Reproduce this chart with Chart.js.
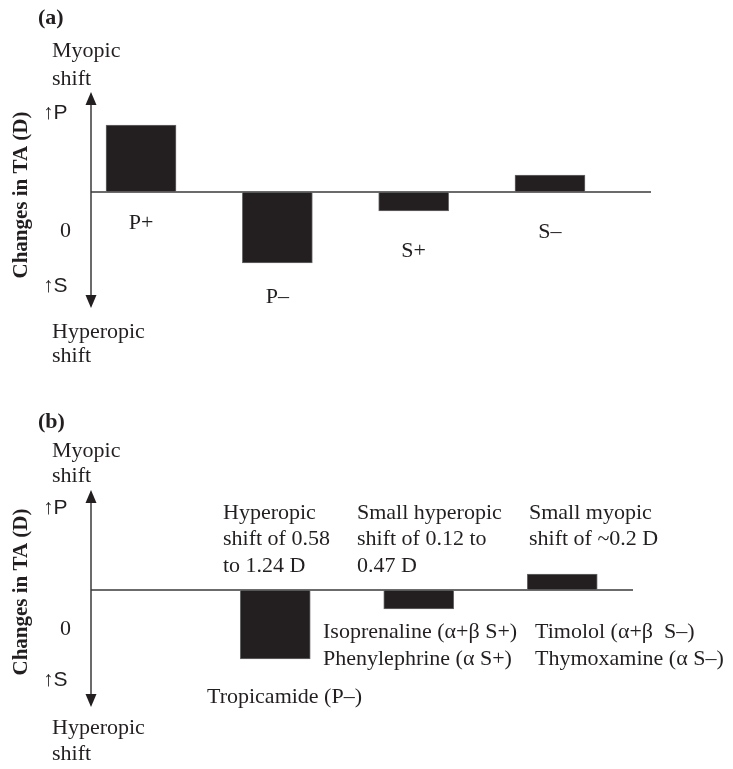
<!DOCTYPE html>
<html>
<head>
<meta charset="utf-8">
<script src="https://cdn.jsdelivr.net/npm/chart.js@4/dist/chart.umd.min.js"></script>
<style>
  html, body { margin: 0; padding: 0; background: #ffffff; }
  #wrap { position: relative; width: 733px; height: 769px; background: #ffffff; }
  .panel { position: absolute; left: 0; width: 733px; }
  canvas { display: block; }
</style>
</head>
<body>
<div id="wrap">
  <div class="panel" style="top:0px;height:385px;"><canvas id="chartA" width="733" height="385"></canvas></div>
  <div class="panel" style="top:385px;height:384px;"><canvas id="chartB" width="733" height="384"></canvas></div>
</div>
<script>
// ---------------- DATA ----------------
const receptorClasses = ['P+', 'P–', 'S+', 'S–'];
const changeA = [0.67, -0.71, -0.19, 0.17];

const drugClassesB = ['P–', 'S+', 'S–'];
const changeB = [-0.69, -0.19, 0.16];
const drugNamesB = [
  ['Tropicamide (P–)'],
  ['Isoprenaline (α+β S+)', 'Phenylephrine (α S+)'],
  ['Timolol (α+β  S–)', 'Thymoxamine (α S–)']
];
const effectNotesB = [
  ['Hyperopic', 'shift of 0.58', 'to 1.24 D'],
  ['Small hyperopic', 'shift of 0.12 to', '0.47 D'],
  ['Small myopic', 'shift of ~0.2 D']
];

const axisTickLabels = ['↑P', '0', '↑S'];
const axisTopLabel = ['Myopic', 'shift'];
const axisBottomLabel = ['Hyperopic', 'shift'];
const yTitle = 'Changes in TA (D)';
const panelTags = ['(a)', '(b)'];

// ---------------- STYLE / LAYOUT ----------------
const INK = '#231f20';
const LINE = '#3a3a3a';
const SERIF = '"Liberation Serif", "Times New Roman", serif';
const SANS = '"Liberation Sans", "DejaVu Sans", sans-serif';

const layoutA = {
  tag: { x: 38, y: 24 },
  top: { x: 52, ys: [57, 85] },
  bottom: { x: 52, ys: [338, 362] },
  ticks: [{ x: 43, y: 119 }, { x: 60, y: 237 }, { x: 43, y: 292 }],
  title: { x: 22, y: 195 },
  barLabelDy: [37, 40, 46, 46]
};
const layoutB = {
  tag: { x: 38, y: 43 },
  top: { x: 52, ys: [72, 97] },
  bottom: { x: 52, ys: [349, 375] },
  ticks: [{ x: 43, y: 129 }, { x: 60, y: 250 }, { x: 43, y: 301 }],
  title: { x: 22, y: 207 },
  notes: { xs: [223, 357, 529], ys: [134, 160, 187] },
  names: [{ x: 207, ys: [318] }, { x: 323, ys: [253, 280] }, { x: 535, ys: [253, 280] }]
};

function txt(ctx, s, x, y, font, align) {
  ctx.font = font;
  ctx.textAlign = align || 'left';
  ctx.textBaseline = 'alphabetic';
  ctx.fillStyle = INK;
  ctx.fillText(s, x, y);
}

function drawAxes(chart) {
  const ctx = chart.ctx;
  const a = chart.chartArea;
  const y0 = chart.scales.y.getPixelForValue(0);
  ctx.save();
  ctx.strokeStyle = LINE;
  ctx.lineWidth = 1.5;
  ctx.beginPath();
  ctx.moveTo(a.left, y0);
  ctx.lineTo(a.right, y0);
  ctx.stroke();
  const ah = 13, aw = 5.5;
  ctx.beginPath();
  ctx.moveTo(a.left, a.top + ah - 2);
  ctx.lineTo(a.left, a.bottom - ah + 2);
  ctx.stroke();
  ctx.fillStyle = INK;
  ctx.beginPath();
  ctx.moveTo(a.left, a.top);
  ctx.lineTo(a.left - aw, a.top + ah);
  ctx.lineTo(a.left + aw, a.top + ah);
  ctx.closePath();
  ctx.fill();
  ctx.beginPath();
  ctx.moveTo(a.left, a.bottom);
  ctx.lineTo(a.left - aw, a.bottom - ah);
  ctx.lineTo(a.left + aw, a.bottom - ah);
  ctx.closePath();
  ctx.fill();
  ctx.restore();
}

function drawCommonText(chart, L, tag) {
  const ctx = chart.ctx;
  ctx.save();
  txt(ctx, tag, L.tag.x, L.tag.y, 'bold 22px ' + SERIF);
  axisTopLabel.forEach((s, i) => txt(ctx, s, L.top.x, L.top.ys[i], '22px ' + SERIF));
  axisBottomLabel.forEach((s, i) => txt(ctx, s, L.bottom.x, L.bottom.ys[i], '22px ' + SERIF));
  axisTickLabels.forEach((s, i) => {
    const f = s === '0' ? '22px ' + SERIF : '21px ' + SANS;
    txt(ctx, s, L.ticks[i].x, L.ticks[i].y, f);
  });
  ctx.translate(L.title.x, L.title.y);
  ctx.rotate(-Math.PI / 2);
  ctx.font = 'bold 21px ' + SERIF;
  ctx.textAlign = 'center';
  ctx.textBaseline = 'middle';
  ctx.fillStyle = INK;
  ctx.fillText(yTitle, 0, 0);
  ctx.restore();
}

const panelAPlugin = {
  id: 'panelA',
  beforeDatasetsDraw(chart) { drawAxes(chart); },
  afterDraw(chart) {
    drawCommonText(chart, layoutA, panelTags[0]);
    const ctx = chart.ctx;
    const xs = chart.scales.x, ys = chart.scales.y;
    ctx.save();
    receptorClasses.forEach((c, i) => {
      const cx = xs.getPixelForValue(i);
      const low = Math.max(ys.getPixelForValue(0), ys.getPixelForValue(changeA[i]));
      txt(ctx, c, cx, low + layoutA.barLabelDy[i], '22px ' + SERIF, 'center');
    });
    ctx.restore();
  }
};

const panelBPlugin = {
  id: 'panelB',
  beforeDatasetsDraw(chart) { drawAxes(chart); },
  afterDraw(chart) {
    drawCommonText(chart, layoutB, panelTags[1]);
    const ctx = chart.ctx;
    ctx.save();
    effectNotesB.forEach((lines, i) => {
      lines.forEach((s, j) => txt(ctx, s, layoutB.notes.xs[i], layoutB.notes.ys[j], '22px ' + SERIF));
    });
    drugNamesB.forEach((lines, i) => {
      lines.forEach((s, j) => txt(ctx, s, layoutB.names[i].x, layoutB.names[i].ys[j], '22px ' + SERIF));
    });
    ctx.restore();
  }
};

function barOptions(padding, xmin, xmax, ymin, ymax) {
  return {
    responsive: false,
    devicePixelRatio: 1,
    animation: false,
    layout: { padding: padding },
    plugins: { legend: { display: false }, tooltip: { enabled: false }, title: { display: false } },
    scales: {
      x: { type: 'linear', min: xmin, max: xmax, offset: false, display: false, grid: { display: false, offset: false } },
      y: { type: 'linear', min: ymin, max: ymax, display: false, grid: { display: false } }
    }
  };
}

new Chart(document.getElementById('chartA'), {
  type: 'bar',
  data: {
    datasets: [{
      label: 'Changes in TA (D)',
      data: receptorClasses.map((c, i) => ({ x: i, y: changeA[i] })),
      backgroundColor: INK,
      borderColor: '#6b6b6b',
      borderWidth: 1,
      borderSkipped: false,
      barThickness: 70
    }]
  },
  options: barOptions({ left: 91, right: 82, top: 92, bottom: 77 }, -0.367, 3.741, -1.16, 1.0),
  plugins: [panelAPlugin]
});

new Chart(document.getElementById('chartB'), {
  type: 'bar',
  data: {
    datasets: [{
      label: 'Changes in TA (D)',
      data: drugClassesB.map((c, i) => ({ x: receptorClasses.indexOf(c), y: changeB[i] })),
      backgroundColor: INK,
      borderColor: '#6b6b6b',
      borderWidth: 1,
      borderSkipped: false,
      barThickness: 70
    }]
  },
  options: barOptions({ left: 91, right: 100, top: 105, bottom: 62 }, -0.284, 3.493, -1.17, 1.0),
  plugins: [panelBPlugin]
});
</script>
</body>
</html>
